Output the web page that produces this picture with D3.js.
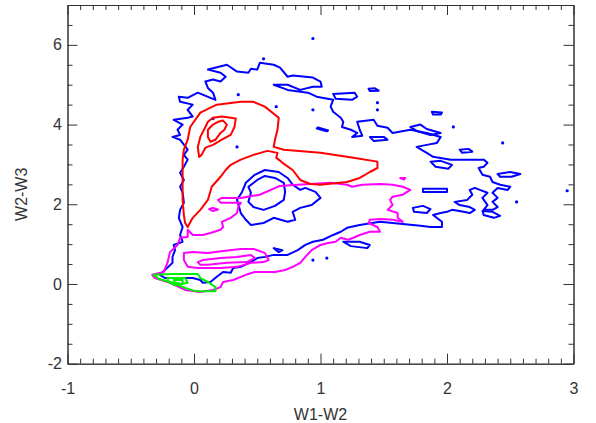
<!DOCTYPE html>
<html>
<head>
<meta charset="utf-8">
<script src="https://cdn.jsdelivr.net/npm/d3@7"></script>
<style>
  body { margin: 0; background: #fff; }
  svg { display: block; font-family: "Liberation Sans", Arial, sans-serif; }
  .axis path, .axis line { stroke: #333; stroke-width: 1; }
  .axis text { fill: #333; font-size: 16px; }
  .title { fill: #333; font-size: 16px; }
  .contour { fill: none; stroke-width: 2; stroke-linejoin: round; }
</style>
</head>
<body>
<script>
// axis ticks
const xMajor = [-1, 0, 1, 2, 3];
const yMajor = [-2, 0, 2, 4, 6];

// contour lines, [W1-W2, W2-W3]
const blueOuter = [
  [-0.11,4.57],[-0.12,4.70],[-0.05,4.67],[0.03,4.80],[0.13,4.67],[0.17,4.62],[0.15,4.80],[0.11,4.92],
  [0.09,5.08],[0.15,5.13],[0.21,5.08],[0.25,5.20],[0.21,5.30],[0.11,5.38],[0.26,5.50],[0.34,5.33],
  [0.43,5.30],[0.45,5.40],[0.50,5.38],[0.52,5.55],[0.63,5.50],[0.68,5.43],[0.74,5.20],[0.78,5.23],
  [0.94,5.18],[1.00,5.08],[1.01,4.95],[0.94,4.95],[0.84,4.87],[0.74,5.00],[0.63,5.00],[0.74,4.87],
  [0.90,4.80],[0.97,4.70],[1.10,4.62],[1.08,4.45],[1.10,4.32],[1.16,4.17],[1.18,4.07],[1.17,3.94],
  [1.24,3.87],[1.29,3.79],[1.25,3.69],[1.33,3.72],[1.31,3.87],[1.29,4.07],[1.42,4.12],[1.45,3.97],
  [1.53,3.92],[1.57,3.79],[1.71,3.87],[1.84,3.79],[1.95,3.69],[1.92,3.54],[1.84,3.49],[1.76,3.44],
  [1.84,3.29],[1.89,3.19],[2.03,3.12],[2.18,3.12],[2.29,3.12],[2.32,3.04],[2.29,2.94],[2.25,2.91],
  [2.28,2.74],[2.34,2.69],[2.36,2.56],[2.42,2.49],[2.50,2.44],[2.48,2.36],[2.40,2.41],[2.36,2.29],
  [2.40,2.16],[2.36,2.06],[2.40,1.93],[2.36,1.86],[2.29,1.86],[2.32,1.98],[2.28,2.16],[2.32,2.29],
  [2.26,2.36],[2.22,2.41],[2.18,2.36],[2.20,2.24],[2.16,2.11],[2.06,2.06],[2.10,1.98],[2.18,1.93],
  [2.22,1.86],[2.18,1.78],[2.13,1.81],[2.04,1.86],[2.00,1.81],[1.95,1.78],[1.89,1.73],[1.96,1.56],
  [1.96,1.43],[1.87,1.43],[1.79,1.46],[1.63,1.51],[1.47,1.56],[1.31,1.48],[1.21,1.41],[1.16,1.31],
  [1.10,1.23],[1.02,1.11],[0.94,1.06],[0.88,0.98],[0.82,0.85],[0.74,0.73],[0.63,0.73],[0.56,0.68],
  [0.50,0.65],[0.45,0.55],[0.37,0.43],[0.31,0.40],[0.29,0.28],[0.23,0.30],[0.18,0.18],[0.13,0.05],
  [0.07,0.03],[0.05,0.10],[-0.01,0.15],[-0.12,0.15],[-0.23,0.15],[-0.27,0.23],[-0.23,0.35],[-0.17,0.53],
  [-0.17,0.68],[-0.15,0.85],[-0.16,0.98],[-0.09,1.06],[-0.11,1.23],[-0.09,1.43],[-0.12,1.66],[-0.11,1.86],
  [-0.08,2.04],[-0.09,2.29],[-0.11,2.44],[-0.08,2.61],[-0.11,2.79],[-0.08,2.94],[-0.05,3.12],[-0.08,3.24],
  [-0.05,3.37],[-0.11,3.62],[-0.17,3.69],[-0.11,3.74],[-0.13,3.87],[-0.09,4.00],[-0.16,4.12],[-0.05,4.17],
  [-0.01,4.20],[-0.05,4.37],[-0.01,4.50]
];
const blueMidOuter = [
  [0.37,1.78],[0.34,2.11],[0.38,2.31],[0.41,2.54],[0.48,2.74],[0.56,2.86],[0.67,2.81],[0.74,2.66],
  [0.78,2.49],[0.84,2.36],[0.88,2.41],[0.96,2.31],[1.00,2.16],[0.93,1.98],[0.84,1.91],[0.78,1.81],
  [0.80,1.61],[0.74,1.56],[0.63,1.66],[0.55,1.53],[0.45,1.48],[0.41,1.61]
];
const blueMidInner = [
  [0.43,2.06],[0.45,2.29],[0.43,2.44],[0.50,2.61],[0.56,2.71],[0.64,2.66],[0.71,2.54],[0.72,2.31],
  [0.71,2.11],[0.64,1.96],[0.55,1.86],[0.47,1.93]
];
const blueIslands = [
  [[1.10,4.77],[1.27,4.80],[1.29,4.70],[1.25,4.62],[1.12,4.65]],
  [[1.38,4.90],[1.43,4.91],[1.46,4.85],[1.39,4.84]],
  [[0.98,3.93],[1.06,3.85],[1.05,3.83],[0.97,3.90]],
  [[1.88,4.32],[1.96,4.30],[1.95,4.25],[1.89,4.25]],
  [[1.71,3.94],[1.79,4.00],[1.84,3.89],[1.95,3.79],[1.87,3.74],[1.76,3.84]],
  [[1.39,3.69],[1.50,3.69],[1.53,3.62],[1.42,3.59]],
  [[2.10,3.37],[2.17,3.39],[2.20,3.32],[2.12,3.29]],
  [[1.87,3.07],[1.95,3.09],[2.04,2.99],[2.01,2.89],[1.91,2.94]],
  [[2.40,2.76],[2.50,2.81],[2.58,2.76],[2.51,2.69],[2.42,2.69]],
  [[1.81,2.39],[2.00,2.39],[2.00,2.31],[1.81,2.31]],
  [[2.28,1.83],[2.36,1.81],[2.42,1.71],[2.37,1.66],[2.29,1.73]],
  [[1.73,1.91],[1.81,1.96],[1.87,1.88],[1.84,1.78],[1.74,1.81]],
  [[1.18,1.06],[1.31,1.06],[1.39,0.98],[1.37,0.90],[1.24,0.95]],
  [[0.63,0.90],[0.70,0.85],[0.67,0.80]]
];
const blueDots = [
  [1.45,4.55],[1.45,4.37],[0.55,5.65],[0.94,6.16],[0.35,4.75],[0.65,4.45],[0.94,4.37],[0.34,3.44],
  [0.15,4.15],[2.05,3.94],[2.44,3.54],[2.55,2.06],[2.95,2.34],[0.94,0.60],[1.05,0.65]
];

const redOuter = [
  [-0.09,3.12],[-0.08,3.37],[-0.05,3.62],[-0.03,3.94],[0.05,4.30],[0.18,4.50],[0.37,4.57],[0.47,4.57],
  [0.56,4.45],[0.67,4.17],[0.66,3.87],[0.64,3.62],[0.63,3.44],[0.71,3.37],[1.00,3.29],[1.26,3.17],
  [1.45,3.07],[1.45,2.91],[1.39,2.81],[1.31,2.66],[1.21,2.56],[1.00,2.49],[0.92,2.51],[0.84,2.61],
  [0.78,2.86],[0.70,3.04],[0.65,3.17],[0.66,3.29],[0.58,3.34],[0.47,3.24],[0.37,3.12],[0.29,2.99],
  [0.25,2.86],[0.21,2.69],[0.14,2.44],[0.11,2.11],[0.05,1.86],[-0.01,1.66],[-0.05,1.43],[-0.07,1.53],
  [-0.08,1.73],[-0.09,2.11],[-0.09,2.61]
];
const redMid = [
  [0.15,4.17],[0.22,4.20],[0.29,4.17],[0.33,4.15],[0.32,3.94],[0.29,3.74],[0.22,3.62],[0.15,3.49],
  [0.09,3.42],[0.06,3.24],[0.04,3.19],[0.03,3.44],[0.05,3.69],[0.09,3.94],[0.11,4.07]
];
const redInner = [
  [0.15,4.00],[0.19,4.07],[0.23,4.10],[0.26,4.00],[0.24,3.87],[0.21,3.79],[0.17,3.62],[0.13,3.57],
  [0.11,3.69],[0.11,3.87]
];

const magentaOuter = [
  [0.19,2.11],[0.22,2.16],[0.37,2.16],[0.52,2.24],[0.68,2.46],[0.82,2.49],[0.92,2.51],[1.08,2.54],
  [1.21,2.49],[1.25,2.44],[1.33,2.49],[1.47,2.51],[1.57,2.49],[1.65,2.44],[1.71,2.36],[1.65,2.24],
  [1.57,2.19],[1.55,2.11],[1.57,1.98],[1.53,1.86],[1.61,1.78],[1.61,1.66],[1.65,1.56],[1.57,1.61],
  [1.47,1.63],[1.39,1.61],[1.38,1.53],[1.45,1.43],[1.47,1.31],[1.39,1.31],[1.31,1.23],[1.26,1.16],
  [1.22,1.11],[1.16,1.16],[1.12,1.06],[1.06,1.03],[1.00,0.98],[0.93,0.85],[0.88,0.68],[0.84,0.53],
  [0.78,0.43],[0.72,0.35],[0.64,0.30],[0.48,0.30],[0.41,0.23],[0.31,0.10],[0.23,0.05],[0.21,-0.08],
  [0.15,-0.15],[0.05,-0.20],[-0.07,-0.15],[-0.19,0.03],[-0.31,0.15],[-0.33,0.23],[-0.24,0.30],[-0.21,0.53],
  [-0.19,0.80],[-0.13,0.98],[-0.11,1.16],[-0.05,1.18],[-0.05,1.36],[-0.01,1.23],[0.07,1.23],[0.13,1.28],
  [0.21,1.36],[0.23,1.43],[0.22,1.56],[0.29,1.66],[0.34,1.78],[0.35,1.93],[0.37,2.04],[0.29,2.04],
  [0.21,2.04]
];
const magentaMid = [
  [-0.08,0.78],[-0.01,0.80],[0.11,0.78],[0.23,0.83],[0.37,0.88],[0.47,0.88],[0.56,0.78],[0.59,0.60],
  [0.55,0.55],[0.45,0.53],[0.34,0.43],[0.21,0.40],[0.11,0.40],[0.03,0.40],[-0.05,0.43],[-0.08,0.60]
];
const magentaInner = [
  [0.03,0.55],[0.07,0.60],[0.21,0.65],[0.34,0.68],[0.45,0.73],[0.48,0.65],[0.42,0.55],[0.26,0.53],
  [0.11,0.48],[0.05,0.48]
];
const magentaIslands = [
  [[0.12,1.88],[0.15,1.91],[0.19,1.87],[0.15,1.83]],
  [[1.63,2.66],[1.67,2.66],[1.66,2.62]]
];

const greenOuter = [
  [-0.32,0.23],[-0.17,0.25],[0.03,0.25],[0.05,0.15],[0.11,0.05],[0.17,-0.08],[0.17,-0.18],[0.01,-0.18],
  [-0.07,-0.10],[-0.17,0.03],[-0.28,0.13]
];
const greenMid = [[-0.21,0.15],[-0.07,0.15],[-0.05,0.03],[-0.15,-0.03],[-0.20,0.05]];
const greenInner = [[-0.16,0.10],[-0.09,0.10],[-0.09,0.00],[-0.15,0.03]];

const W = 596, H = 423;
const margin = { top: 5, right: 22.5, bottom: 59.3, left: 67.5 };
const width = W - margin.left - margin.right;
const height = H - margin.top - margin.bottom;

const x = d3.scaleLinear().domain([-1, 3]).range([0, width]);
const y = d3.scaleLinear().domain([-2, 7]).range([height, 0]);

const svg = d3.select('body').append('svg')
  .attr('width', W).attr('height', H);
const g = svg.append('g')
  .attr('transform', 'translate(' + margin.left + ',' + margin.top + ')');

const line = d3.line().x(d => x(d[0])).y(d => y(d[1])).curve(d3.curveLinearClosed);

function drawLoops(loops, colour) {
  g.selectAll(null).data(loops).enter().append('path')
    .attr('class', 'contour')
    .attr('stroke', colour)
    .attr('d', line);
}

drawLoops([blueOuter, blueMidOuter, blueMidInner].concat(blueIslands), '#0000ff');
g.selectAll('.dot').data(blueDots).enter().append('circle')
  .attr('class', 'dot')
  .attr('cx', d => x(d[0])).attr('cy', d => y(d[1]))
  .attr('r', 1.6).attr('fill', '#0000ff');
drawLoops([magentaOuter, magentaMid, magentaInner].concat(magentaIslands), '#ff00ff');
drawLoops([redOuter, redMid, redInner], '#ff0000');
drawLoops([greenOuter, greenMid, greenInner], '#00ee00');

// minor tick values
const xMinor = d3.range(-1, 3.0001, 0.1).map(v => +v.toFixed(1)).filter(v => xMajor.indexOf(v) < 0);
const yMinor = d3.range(-2, 7.0001, 0.5).map(v => +v.toFixed(1)).filter(v => yMajor.indexOf(v) < 0);

// plain hyphen for negatives, like the original
const fmt = d => String(d);

function addAxis(axisFn, scale, vals, size, labels, pad, transform) {
  g.append('g').attr('class', 'axis').attr('transform', transform)
    .call(axisFn(scale).tickValues(vals).tickSizeInner(size).tickSizeOuter(0)
      .tickPadding(pad).tickFormat(labels ? fmt : ''));
}

// bottom & top
addAxis(d3.axisBottom, x, xMajor, -10, true, 19, 'translate(0,' + height + ')');
addAxis(d3.axisBottom, x, xMinor, -5, false, 0, 'translate(0,' + height + ')');
addAxis(d3.axisTop, x, xMajor, -10, false, 0, 'translate(0,0)');
addAxis(d3.axisTop, x, xMinor, -5, false, 0, 'translate(0,0)');
// left & right
addAxis(d3.axisLeft, y, yMajor, -10, true, 5.5, 'translate(0,0)');
addAxis(d3.axisLeft, y, yMinor, -5, false, 0, 'translate(0,0)');
addAxis(d3.axisRight, y, yMajor, -10, false, 0, 'translate(' + width + ',0)');
addAxis(d3.axisRight, y, yMinor, -5, false, 0, 'translate(' + width + ',0)');

g.selectAll('.axis text').filter(function () { return this.textContent === ''; }).remove();

svg.append('text').attr('class', 'title')
  .attr('x', margin.left + width / 2).attr('y', 420)
  .attr('text-anchor', 'middle').text('W1-W2');
svg.append('text').attr('class', 'title')
  .attr('transform', 'translate(27,' + (margin.top + y(2.25)) + ') rotate(-90)')
  .attr('text-anchor', 'middle').text('W2-W3');
</script>
</body>
</html>
